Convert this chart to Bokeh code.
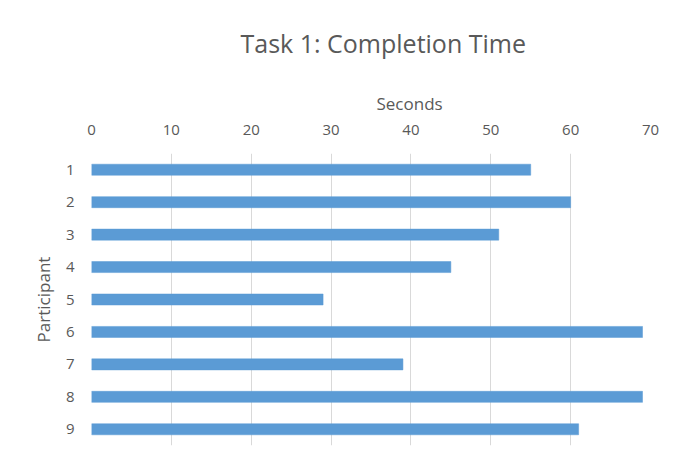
from bokeh.plotting import figure
from bokeh.models import Range1d, FactorRange, FixedTicker, LinearAxis, Title
from bokeh.embed import file_html
from bokeh.resources import INLINE

# ---- data ----
participants = ["1", "2", "3", "4", "5", "6", "7", "8", "9"]
seconds = [55, 60, 51, 45, 29, 69, 39, 69, 61]
x_ticks = [0, 10, 20, 30, 40, 50, 60, 70]
title_text = "Task 1: Completion Time"
x_title = "Seconds"
y_title = "Participant"

FONT = "Open Sans"
TEXT_COLOR = "#595959"
BAR_COLOR = "#5B9BD5"

p = figure(
    width=668, height=458,
    output_backend="svg", toolbar_location=None,
    x_range=Range1d(0, 70),
    y_range=FactorRange(factors=list(reversed(participants)), range_padding=0),
    x_axis_location=None,
    min_border_left=91, min_border_right=18, min_border_top=153, min_border_bottom=13,
)
p.title = None
p.outline_line_color = None
p.background_fill_color = "white"
p.border_fill_color = "white"

p.hbar(y=participants, right=seconds, left=0, height=0.34,
       fill_color=BAR_COLOR, line_color=BAR_COLOR, line_width=0.5)

# top axis
xa = LinearAxis(ticker=FixedTicker(ticks=x_ticks))
xa.axis_line_color = None
xa.major_tick_line_color = None
xa.minor_tick_line_color = None
xa.major_label_text_font = FONT
xa.major_label_text_font_size = "15px"
xa.major_label_text_color = TEXT_COLOR
xa.major_label_standoff = 13
p.add_layout(xa, "above")

# axis title and chart title, stacked above the axis
sec_title = Title(text=x_title, align="left", offset=285, standoff=14,
                  text_font=FONT, text_font_size="17px", text_font_style="normal",
                  text_color=TEXT_COLOR)
p.add_layout(sec_title, "above")
main_title = Title(text=title_text, align="left", offset=149, standoff=46,
                   text_font=FONT, text_font_size="25px", text_font_style="normal",
                   text_color=TEXT_COLOR)
p.add_layout(main_title, "above")

# left axis
ya = p.yaxis[0]
ya.axis_line_color = None
ya.major_tick_line_color = None
ya.minor_tick_line_color = None
ya.major_label_text_font = FONT
ya.major_label_text_font_size = "15px"
ya.major_label_text_color = TEXT_COLOR
ya.major_label_standoff = 11
ya.axis_label = y_title
ya.axis_label_text_font = FONT
ya.axis_label_text_font_size = "17px"
ya.axis_label_text_font_style = "normal"
ya.axis_label_text_color = TEXT_COLOR
ya.axis_label_standoff = 8

p.xgrid.grid_line_color = "#D9D9D9"
p.xgrid.grid_line_width = 1
p.xgrid.ticker = FixedTicker(ticks=x_ticks)
p.ygrid.grid_line_color = None

open("out.html", "w").write(file_html(p, INLINE))
